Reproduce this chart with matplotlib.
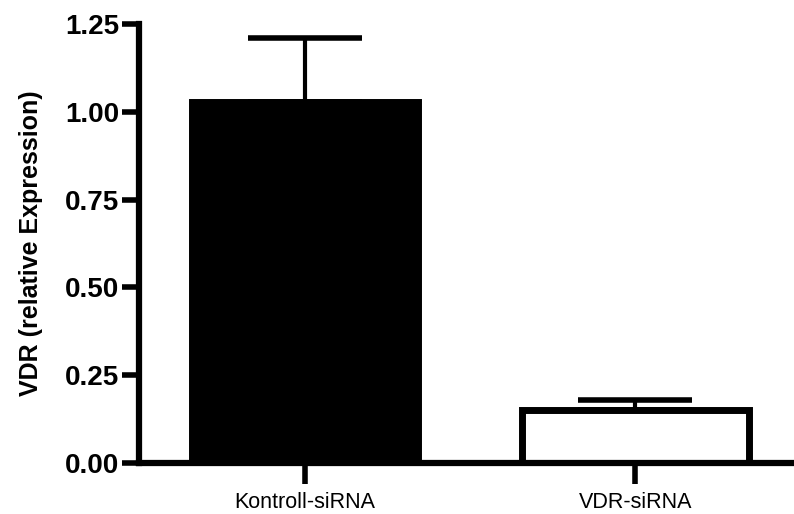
import matplotlib.pyplot as plt
import numpy as np

plt.rcParams['font.family'] = ['Liberation Sans', 'DejaVu Sans']

groups = ['Kontroll-siRNA', 'VDR-siRNA']
means = [1.027, 0.151]
errors = [0.183, 0.029]
fill_colors = ['black', 'white']
y_ticks = [0.00, 0.25, 0.50, 0.75, 1.00, 1.25]

fig = plt.figure(figsize=(7.94, 5.14), dpi=100)
ax = fig.add_axes([0.175, 0.0992, 0.825, 0.8541])

x = np.arange(len(groups))
ax.bar(x, means, width=0.685, color=fill_colors, edgecolor='black',
       linewidth=5, zorder=2)

# only the upper half of the error bar
ax.errorbar(x, means, yerr=[np.zeros(len(errors)), errors], fmt='none',
            ecolor='black', elinewidth=3, capsize=41, capthick=4, zorder=1)

ax.set_xlim(-0.503, 1.48)
ax.set_ylim(0, 1.25)
ax.set_yticks(y_ticks)
ax.set_yticklabels([f'{v:.2f}' for v in y_ticks], fontsize=20, fontweight='bold')
ax.set_xticks(x)
ax.set_xticklabels(groups, fontsize=15.5)
ax.set_ylabel('VDR (relative Expression)', fontsize=18, fontweight='bold', labelpad=16)

for side in ['top', 'right']:
    ax.spines[side].set_visible(False)
for side in ['left', 'bottom']:
    ax.spines[side].set_linewidth(4.5)

ax.tick_params(axis='y', direction='out', length=12, width=4, pad=2)
ax.tick_params(axis='x', direction='out', length=15, width=4, pad=6)

plt.savefig('out.png', dpi=100)
